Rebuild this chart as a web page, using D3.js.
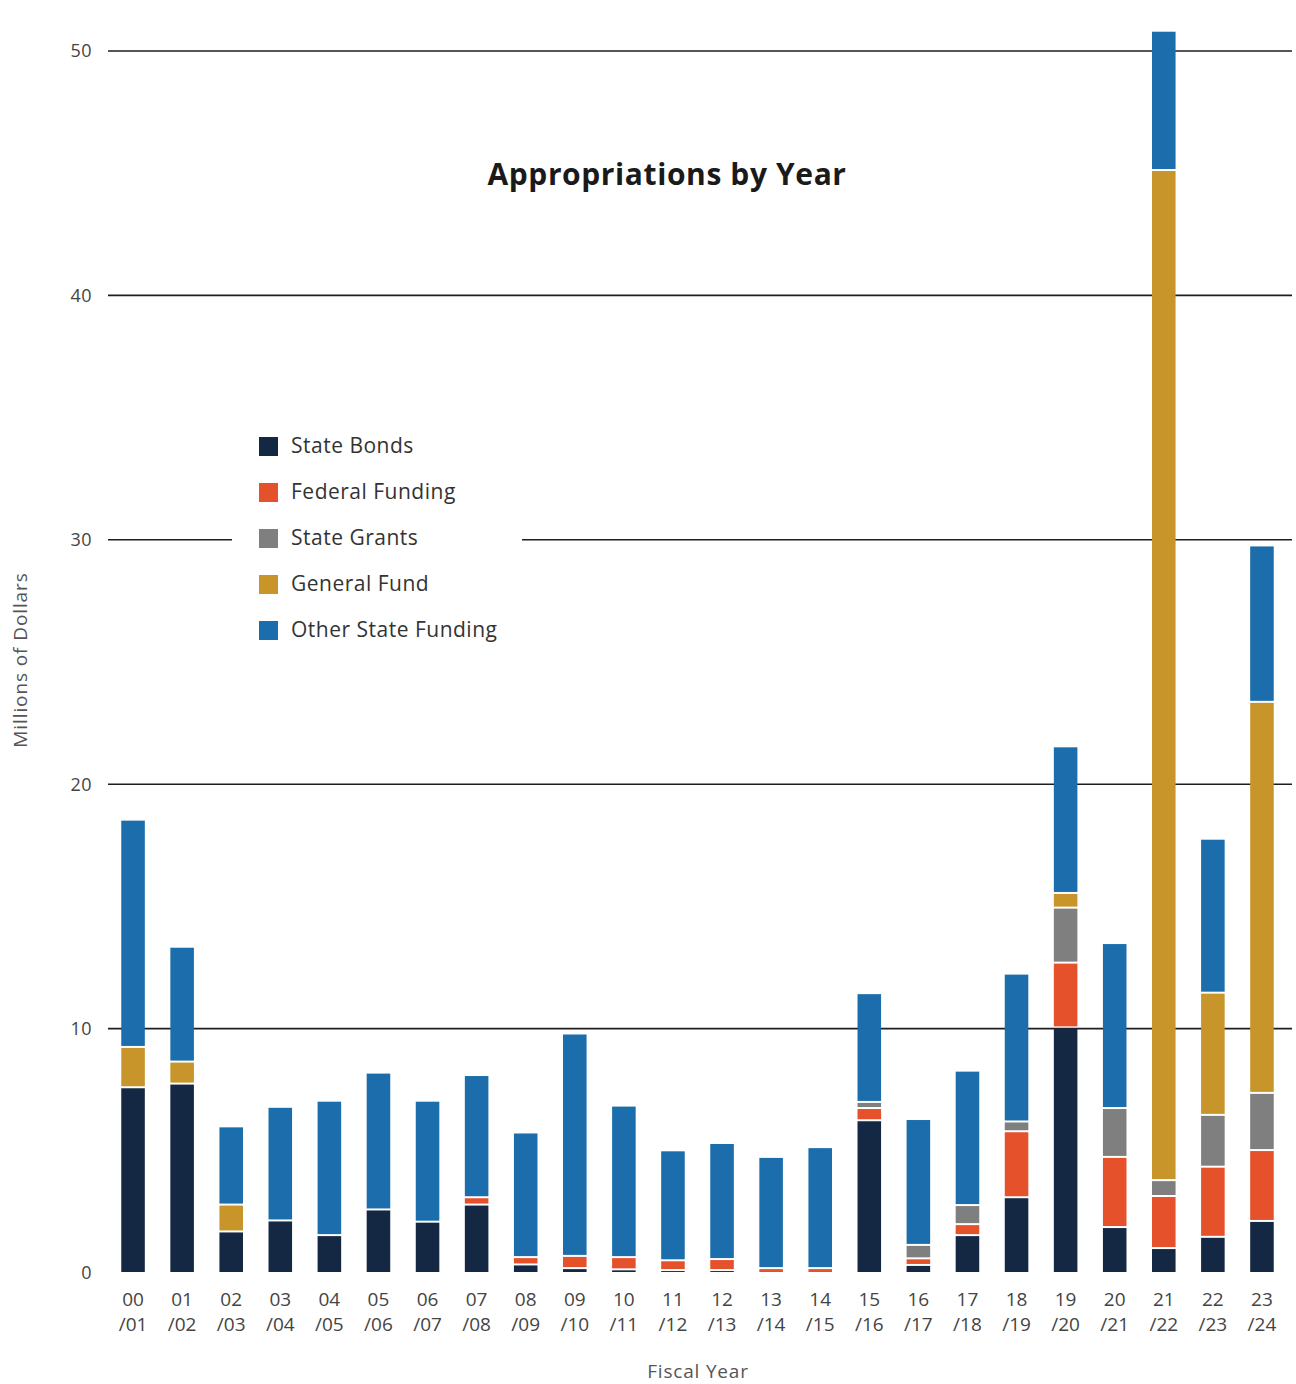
<!DOCTYPE html>
<html>
<head>
<meta charset="utf-8">
<script src="https://cdn.jsdelivr.net/npm/d3@7"></script>
<style>
  html, body { margin: 0; padding: 0; background: #fff; }
  svg { display: block; font-family: "Open Sans", sans-serif; }
</style>
</head>
<body>
<div id="chart"></div>
<script>
const years = ['00/01', '01/02', '02/03', '03/04', '04/05', '05/06', '06/07', '07/08', '08/09', '09/10',
  '10/11', '11/12', '12/13', '13/14', '14/15', '15/16', '16/17', '17/18', '18/19', '19/20',
  '20/21', '21/22', '22/23', '23/24'];

const stateBonds = [7.6, 7.75, 1.7, 2.15, 1.55, 2.6, 2.1, 2.8, 0.35, 0.2, 0.15, 0.12, 0.12, 0, 0,
  6.25, 0.33, 1.55, 3.1, 10.05, 1.88, 1.02, 1.48, 2.13];
const federalFunding = [0, 0, 0, 0, 0, 0, 0, 0.3, 0.3, 0.5, 0.5, 0.4, 0.45, 0.2, 0.2,
  0.5, 0.27, 0.45, 2.7, 2.65, 2.87, 2.13, 2.87, 2.9];
const stateGrants = [0, 0, 0, 0, 0, 0, 0, 0, 0, 0, 0, 0, 0, 0, 0,
  0.25, 0.55, 0.78, 0.4, 2.25, 2.0, 0.65, 2.12, 2.34];
const generalFund = [1.65, 0.9, 1.1, 0, 0, 0, 0, 0, 0, 0, 0, 0, 0, 0, 0,
  0, 0, 0, 0, 0.6, 0, 41.33, 5.0, 16.0];
const otherStateFunding = [9.3, 4.7, 3.2, 4.65, 5.5, 5.6, 4.95, 5.0, 5.1, 9.1, 6.2, 4.5, 4.75, 4.55, 4.95,
  4.45, 5.15, 5.5, 6.05, 6.0, 6.75, 5.7, 6.3, 6.4];

const seriesNames = ['State Bonds', 'Federal Funding', 'State Grants', 'General Fund', 'Other State Funding'];
const seriesColors = ['#152843', '#e4512b', '#7f7f7f', '#c8952b', '#1b6eab'];
const yTicks = [0, 10, 20, 30, 40, 50];

const rows = years.map((y, i) => ({
  year: y,
  'State Bonds': stateBonds[i],
  'Federal Funding': federalFunding[i],
  'State Grants': stateGrants[i],
  'General Fund': generalFund[i],
  'Other State Funding': otherStateFunding[i],
}));

const width = 1296;
const height = 1384;

const svg = d3.select('#chart').append('svg')
  .attr('width', width)
  .attr('height', height);

const x = d3.scaleBand()
  .domain(years)
  .range([108.5, 1286.5])
  .paddingInner(0.52)
  .paddingOuter(0.26);

const y = d3.scaleLinear()
  .domain([0, 50])
  .range([1273, 51]);

const color = d3.scaleOrdinal().domain(seriesNames).range(seriesColors);

// gridlines (no line at zero)
svg.append('g').attr('class', 'grid')
  .selectAll('line')
  .data(yTicks.filter(t => t > 0))
  .join('line')
  .attr('x1', 108)
  .attr('x2', 1292)
  .attr('y1', d => y(d))
  .attr('y2', d => y(d))
  .attr('stroke', '#1e1e1e')
  .attr('stroke-width', 1.6);

// y tick labels
svg.append('g').attr('class', 'y-labels')
  .selectAll('text')
  .data(yTicks)
  .join('text')
  .attr('x', 92)
  .attr('y', d => y(d))
  .attr('dy', '0.35em')
  .attr('text-anchor', 'end')
  .attr('font-size', 18)
  .attr('letter-spacing', 0.5)
  .attr('fill', '#444')
  .text(d => d);

// stacked bars
const stack = d3.stack().keys(seriesNames)(rows);

svg.append('g').attr('class', 'bars')
  .selectAll('g')
  .data(stack)
  .join('g')
  .attr('fill', d => color(d.key))
  .selectAll('rect')
  .data(d => d.filter(s => s[1] - s[0] > 0))
  .join('rect')
  .attr('x', d => x(d.data.year))
  .attr('width', x.bandwidth())
  .attr('y', d => y(d[1]) + 1)
  .attr('height', d => Math.max(0.8, y(d[0]) - y(d[1]) - 2));

// x tick labels, two lines each
const xl = svg.append('g').attr('class', 'x-labels')
  .selectAll('text')
  .data(years)
  .join('text')
  .attr('text-anchor', 'middle')
  .attr('font-size', 19)
  .attr('fill', '#444');
xl.append('tspan')
  .attr('x', d => x(d) + x.bandwidth() / 2)
  .attr('y', 1306)
  .text(d => d.split('/')[0]);
xl.append('tspan')
  .attr('x', d => x(d) + x.bandwidth() / 2)
  .attr('y', 1331)
  .text(d => '/' + d.split('/')[1]);

// axis titles
svg.append('text')
  .attr('x', 698)
  .attr('y', 1378)
  .attr('text-anchor', 'middle')
  .attr('font-size', 19)
  .attr('letter-spacing', 0.8)
  .attr('fill', '#555')
  .text('Fiscal Year');

svg.append('text')
  .attr('transform', 'translate(27,660) rotate(-90)')
  .attr('text-anchor', 'middle')
  .attr('font-size', 19)
  .attr('letter-spacing', 0.9)
  .attr('fill', '#555')
  .text('Millions of Dollars');

// title
svg.append('text')
  .attr('x', 667)
  .attr('y', 185)
  .attr('text-anchor', 'middle')
  .attr('font-size', 30)
  .attr('font-weight', 700)
  .attr('letter-spacing', 0.6)
  .attr('fill', '#1a1a1a')
  .text('Appropriations by Year');

// legend on a white panel that hides the gridline behind it
const legend = svg.append('g').attr('class', 'legend').attr('transform', 'translate(232,424)');
legend.append('rect')
  .attr('width', 290)
  .attr('height', 232)
  .attr('fill', '#fff');
const item = legend.selectAll('g.item')
  .data(seriesNames)
  .join('g')
  .attr('class', 'item')
  .attr('transform', (d, i) => `translate(27,${22 + i * 46})`);
item.append('rect')
  .attr('y', -9)
  .attr('width', 19)
  .attr('height', 19)
  .attr('fill', d => color(d));
item.append('text')
  .attr('x', 32)
  .attr('dy', '0.35em')
  .attr('font-size', 21)
  .attr('letter-spacing', 0.5)
  .attr('fill', '#333')
  .text(d => d);
</script>
</body>
</html>
